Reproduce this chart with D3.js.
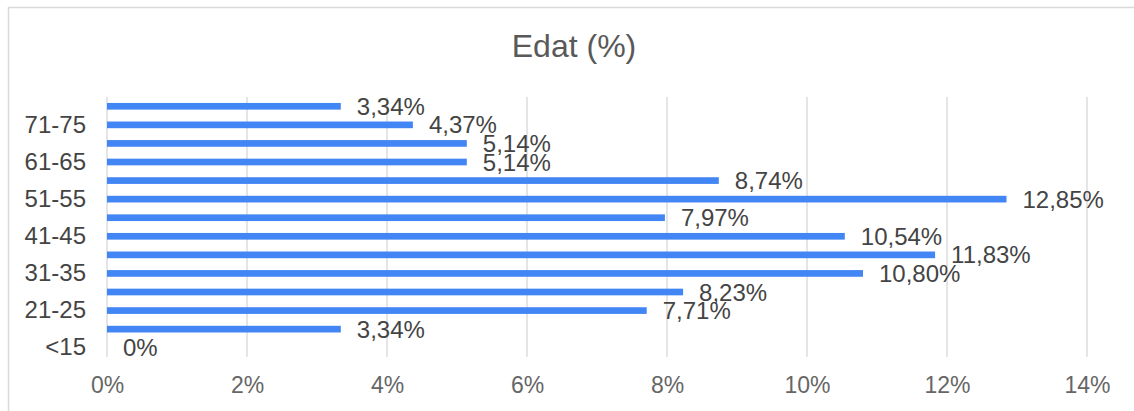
<!DOCTYPE html>
<html>
<head>
<meta charset="utf-8">
<script src="https://cdn.jsdelivr.net/npm/d3@7"></script>
<style>
  body { margin: 0; background: #fff; }
  svg { display: block; font-family: "Liberation Sans", Arial, sans-serif; }
</style>
</head>
<body>
<div id="chart"></div>
<script>
// chart size
let svgWidth = 1134;
let svgHeight = 411;

// age groups, bottom to top
let categories = ['<15', '16-20', '21-25', '26-30', '31-35', '36-40', '41-45',
    '46-50', '51-55', '56-60', '61-65', '66-70', '71-75', '>75'];
// share of each age group (%)
let values = [0, 3.34, 7.71, 8.23, 10.80, 11.83, 10.54, 7.97, 12.85, 8.74, 5.14, 5.14, 4.37, 3.34];
// x axis ticks (%)
let xTicks = [0, 2, 4, 6, 8, 10, 12, 14];
// only every other age group gets a label
let shownCategories = ['<15', '21-25', '31-35', '41-45', '51-55', '61-65', '71-75'];

let data = categories.map((c, i) => ({ cat: c, value: values[i] }));

let plot = { left: 107, right: 1087, top: 97, bottom: 357 };

let svg = d3.select('#chart')
    .append('svg')
    .attr('width', svgWidth)
    .attr('height', svgHeight);

// outer frame
svg.append('rect')
    .attr('x', 8.5)
    .attr('y', 7.5)
    .attr('width', svgWidth)
    .attr('height', svgHeight)
    .attr('fill', 'none')
    .attr('stroke', '#d9d9d9')
    .attr('stroke-width', 1.5);

// title
svg.append('text')
    .attr('x', 574)
    .attr('y', 57)
    .attr('text-anchor', 'middle')
    .attr('font-size', '32px')
    .attr('fill', '#595959')
    .text('Edat (%)');

// scales
let xScale = d3.scaleLinear()
    .domain([0, 14])
    .range([plot.left, plot.right]);

let yScale = d3.scaleBand()
    .domain(categories.slice().reverse())
    .range([plot.top, plot.bottom])
    .paddingInner(0.64)
    .paddingOuter(0.32);

// gridlines
svg.append('g')
    .selectAll('line')
    .data(xTicks)
    .enter()
    .append('line')
    .attr('x1', d => xScale(d))
    .attr('x2', d => xScale(d))
    .attr('y1', plot.top)
    .attr('y2', plot.bottom)
    .attr('stroke', '#dcdcdc')
    .attr('stroke-width', 1.5);

// x axis labels
let xAxis = svg.append('g')
    .attr('transform', `translate(0, ${plot.bottom})`)
    .call(d3.axisBottom(xScale).tickValues(xTicks).tickSize(0).tickPadding(0).tickFormat(d => d + '%'));
xAxis.select('.domain').remove();
xAxis.selectAll('text')
    .attr('y', 36)
    .attr('dy', 0)
    .attr('font-size', '23px')
    .attr('font-family', '"Liberation Sans", Arial, sans-serif')
    .attr('fill', '#666');

// y axis labels
let yAxis = svg.append('g')
    .attr('transform', `translate(${plot.left}, 0)`)
    .call(d3.axisLeft(yScale).tickValues(shownCategories).tickSize(0).tickPadding(21));
yAxis.select('.domain').remove();
yAxis.selectAll('text')
    .attr('font-size', '24px')
    .attr('font-family', '"Liberation Sans", Arial, sans-serif')
    .attr('fill', '#444');

// bars
svg.append('g')
    .selectAll('rect')
    .data(data)
    .enter()
    .append('rect')
    .attr('x', xScale(0))
    .attr('y', d => yScale(d.cat))
    .attr('width', d => xScale(d.value) - xScale(0))
    .attr('height', yScale.bandwidth())
    .attr('fill', '#4285f4');

// value labels
function fmt(v) {
    return v === 0 ? '0%' : v.toFixed(2).replace('.', ',') + '%';
}
svg.append('g')
    .selectAll('text')
    .data(data)
    .enter()
    .append('text')
    .attr('x', d => xScale(d.value) + 16)
    .attr('y', d => yScale(d.cat) + yScale.bandwidth() / 2)
    .attr('dy', '0.36em')
    .attr('font-size', '24px')
    .attr('fill', '#444')
    .text(d => fmt(d.value));
</script>
</body>
</html>
